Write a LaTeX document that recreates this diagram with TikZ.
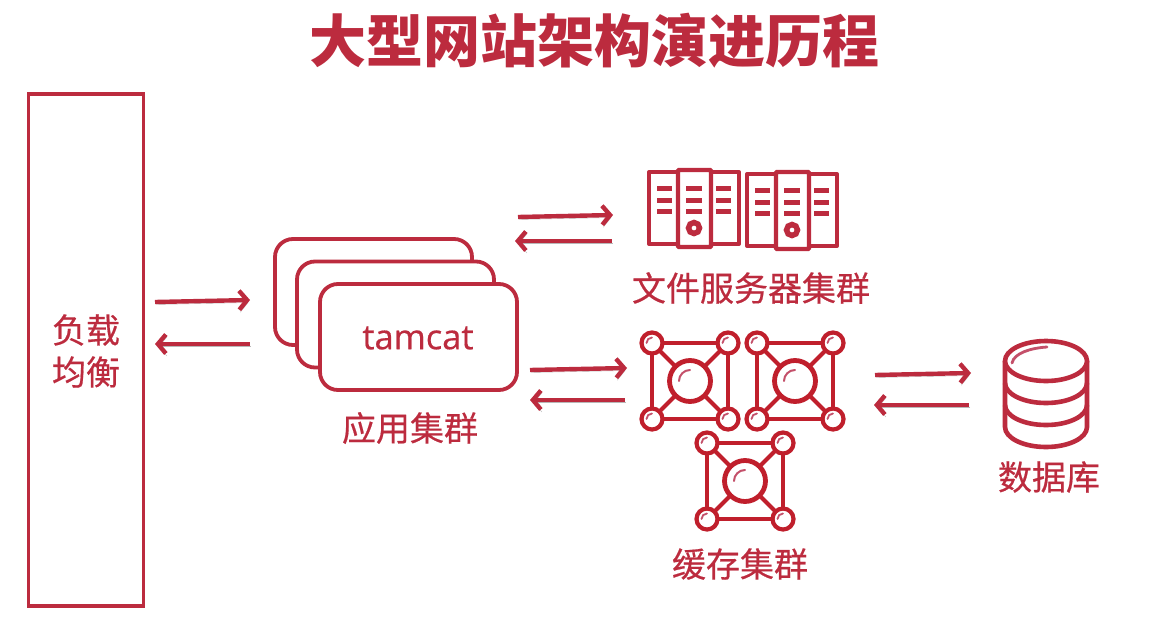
\documentclass[tikz,border=0pt]{standalone}
\usepackage{fontspec}
\setmainfont{Noto Sans CJK SC}
\newfontfamily\capfont[FakeBold=0.5]{Noto Sans CJK SC}
\newfontfamily\latinfont[FakeBold=0.5]{Open Sans}
\usetikzlibrary{arrows.meta}
\definecolor{mainred}{HTML}{BC2B3E}
\definecolor{iconred}{HTML}{C01F2C}
\definecolor{softred}{HTML}{C4506A}
\tikzset{
	box/.style={draw=mainred,line width=3.8pt,fill=white,rounded corners=18pt,minimum width=197pt,minimum height=106pt,inner sep=0pt},
	caption/.style={text=mainred,inner sep=0pt,font=\capfont\fontsize{34}{40}\selectfont},
	flow/.style={draw=mainred,line width=4.4pt,-{Straight Barb[length=8pt,width=19pt,line width=4.4pt]},
		preaction={draw=black!28,transform canvas={shift={(1pt,-2.5pt)}}}},
	pics/server/.style={code={
		\draw[mainred,line width=4pt,line join=round,line cap=round] (-1,-34) -- (-45,-34) -- (-45,38) -- (-1,38);
		\draw[mainred,line width=4pt,line join=round,line cap=round] (19,-34) -- (45,-34) -- (45,38) -- (19,38);
		\draw[mainred,line width=4.4pt,fill=white,rounded corners=1pt] (-16,-36) rectangle (17,41);
		\foreach \y in {-18,-6,5} {
			\draw[mainred,line width=5pt] (-37,\y) -- (-22,\y);
			\draw[mainred,line width=5pt] (-8,\y) -- (8,\y);
			\draw[mainred,line width=5pt] (22,\y) -- (37,\y);
		}
		\draw[mainred,line width=5.5pt] (0,22) circle[radius=5.5];
	}},
	pics/cache/.style={code={
		\draw[iconred,line width=4.2pt] (-38,-38) rectangle (38,38);
		\draw[iconred,line width=4.2pt] (-38,-38) -- (38,38) (38,-38) -- (-38,38);
		\foreach \x/\y in {-38/-38,38/-38,-38/38,38/38} {
			\draw[iconred,line width=4.2pt,fill=white] (\x,\y) circle[radius=10.5];
			\draw[softred,line width=1.8pt,line cap=round] (\x-5.5,\y) arc[start angle=180,end angle=270,radius=5.5];
		}
		\draw[iconred,line width=4.8pt,fill=white] (0,0) circle[radius=20.5];
		\draw[softred,line width=2pt,line cap=round] (-11,0) arc[start angle=180,end angle=270,radius=11];
	}},
	pics/disk/.style={code={
		\draw[mainred,line width=4.6pt,fill=white] (-41,0) -- (-41,66) arc[start angle=180,end angle=0,x radius=41,y radius=20] -- (41,0);
		\draw[mainred,line width=4.6pt] (-41,22) arc[start angle=180,end angle=0,x radius=41,y radius=20];
		\draw[mainred,line width=4.6pt] (-41,44) arc[start angle=180,end angle=0,x radius=41,y radius=20];
		\draw[mainred,line width=4.6pt,fill=white] (0,0) ellipse[x radius=41,y radius=20];
		\draw[softred,line width=2.8pt,line cap=round] (-34,2) .. controls (-32,-8) and (-15,-13) .. (1,-14);
	}}
}
\begin{document}
\begin{tikzpicture}[x=1pt,y=-1pt]
	\useasboundingbox (0,0) rectangle (1166,624);

	\node[text=mainred,inner sep=0pt,font=\fontsize{57}{64}\selectfont\bfseries] (title) at (594,41) {大型网站架构演进历程};

	\node[draw=mainred,line width=3.8pt,minimum width=115pt,minimum height=512pt,inner sep=0pt] (load) at (86,350) {};
	\node[caption] (loadtop) at (86,330) {负载};
	\node[caption] (loadbot) at (86,372) {均衡};

	\node[box] (app1) at (373.5,292) {};
	\node[box] (app2) at (395.5,314.5) {};
	\node[box] (app3) at (418.5,337) {};
	\node[text=mainred,inner sep=0pt,font=\latinfont\fontsize{34.5}{40}\selectfont] (tamcat) at (418,338) {tamcat};
	\node[caption] (applbl) at (410,428) {应用集群};

	\pic (srv1) at (694,206) {server};
	\pic (srv2) at (792,208) {server};
	\node[caption] (srvlbl) at (751,288) {文件服务器集群};

	\pic (cache1) at (690,381) {cache};
	\pic (cache2) at (795,381) {cache};
	\pic (cache3) at (745,481) {cache};
	\node[caption] (cachelbl) at (740,564) {缓存集群};

	\pic (db) at (1046,361) {disk};
	\node[caption] (dblbl) at (1049,477) {数据库};

	\coordinate (a1) at (155,302);
	\coordinate (a2) at (250,300);
	\coordinate (b1) at (250,344);
	\coordinate (b2) at (155,344);
	\coordinate (c1) at (518,217);
	\coordinate (c2) at (613,215);
	\coordinate (d1) at (612,241);
	\coordinate (d2) at (515,241);
	\coordinate (e1) at (530,370);
	\coordinate (e2) at (627,368);
	\coordinate (f1) at (625,400);
	\coordinate (f2) at (530,400);
	\coordinate (g1) at (875,375);
	\coordinate (g2) at (971,373);
	\coordinate (h1) at (969,405);
	\coordinate (h2) at (874,405);

	\path[flow] (a1) -- (a2);
	\path[flow] (b1) -- (b2);
	\path[flow] (c1) -- (c2);
	\path[flow] (d1) -- (d2);
	\path[flow] (e1) -- (e2);
	\path[flow] (f1) -- (f2);
	\path[flow] (g1) -- (g2);
	\path[flow] (h1) -- (h2);
\end{tikzpicture}
\end{document}
